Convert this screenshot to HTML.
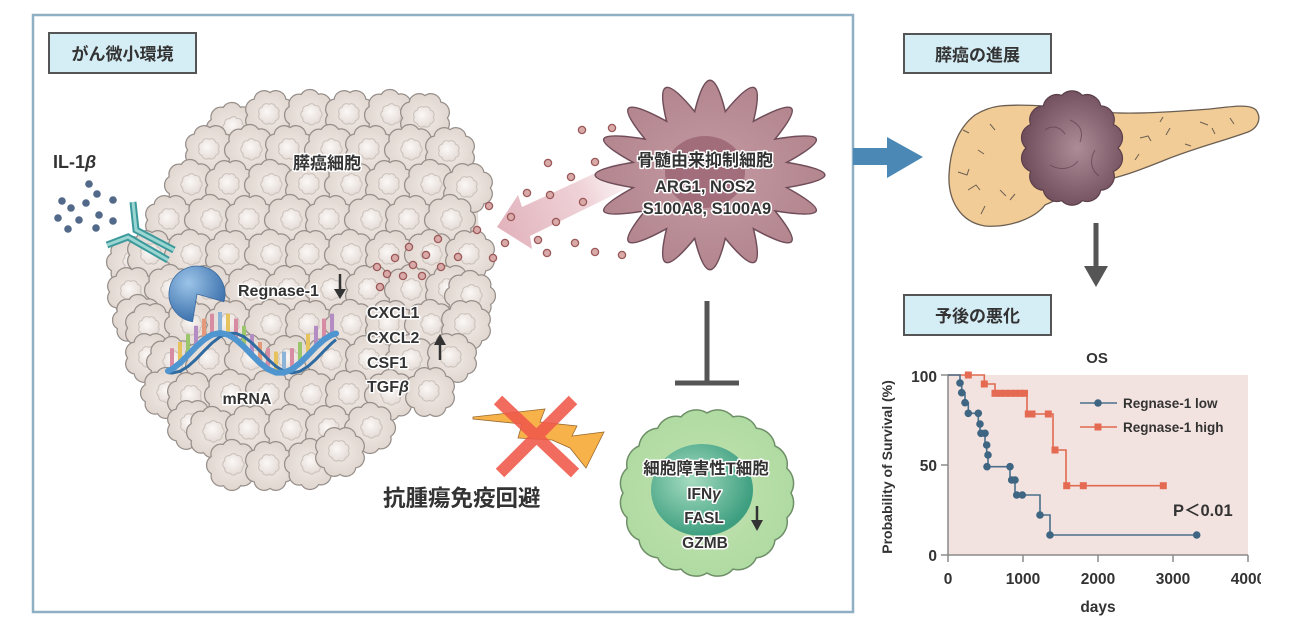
<!DOCTYPE html>
<html><head><meta charset="utf-8"><style>
html,body{margin:0;padding:0;background:#fff;}
svg{display:block;}
text{font-family:"Liberation Sans","Noto Sans CJK JP",sans-serif;font-weight:bold;fill:#333;}
.h{paint-order:stroke;stroke:#fff;stroke-width:3px;stroke-linejoin:round;}
</style></head><body>
<svg width="1300" height="628" viewBox="0 0 1300 628" xmlns="http://www.w3.org/2000/svg">
<defs>
<radialGradient id="cg" cx="50%" cy="50%" r="55%"><stop offset="0" stop-color="#f1eae5"/><stop offset="1" stop-color="#e0d5cf"/></radialGradient>
<radialGradient id="ng" cx="40%" cy="40%" r="60%"><stop offset="0" stop-color="#fbf8f6"/><stop offset="1" stop-color="#e6ddd8"/></radialGradient>
<g id="ca"><g transform="scale(1.12)"><path d="M20,0A9,9 0 0 1 14.14,14.14A9,9 0 0 1 0,20A9,9 0 0 1 -14.14,14.14A9,9 0 0 1 -20,0A9,9 0 0 1 -14.14,-14.14A9,9 0 0 1 0,-20A9,9 0 0 1 14.14,-14.14A9,9 0 0 1 20,0Z" fill="url(#cg)" stroke="#968e89" stroke-width="1.1"/><path transform="translate(-1,-1) scale(0.42)" d="M20,0A9,9 0 0 1 14.14,14.14A9,9 0 0 1 0,20A9,9 0 0 1 -14.14,14.14A9,9 0 0 1 -20,0A9,9 0 0 1 -14.14,-14.14A9,9 0 0 1 0,-20A9,9 0 0 1 14.14,-14.14A9,9 0 0 1 20,0Z" fill="url(#ng)" stroke="#cbc1bb" stroke-width="2.2"/></g></g>
<g id="cb"><g transform="rotate(22) scale(1.12)"><path d="M20,0A9,9 0 0 1 14.14,14.14A9,9 0 0 1 0,20A9,9 0 0 1 -14.14,14.14A9,9 0 0 1 -20,0A9,9 0 0 1 -14.14,-14.14A9,9 0 0 1 0,-20A9,9 0 0 1 14.14,-14.14A9,9 0 0 1 20,0Z" fill="url(#cg)" stroke="#968e89" stroke-width="1.1"/><path transform="translate(1,-1) scale(0.42)" d="M20,0A9,9 0 0 1 14.14,14.14A9,9 0 0 1 0,20A9,9 0 0 1 -14.14,14.14A9,9 0 0 1 -20,0A9,9 0 0 1 -14.14,-14.14A9,9 0 0 1 0,-20A9,9 0 0 1 14.14,-14.14A9,9 0 0 1 20,0Z" fill="url(#ng)" stroke="#cbc1bb" stroke-width="2.2"/></g></g>
<linearGradient id="pa" x1="497" y1="227" x2="640" y2="165" gradientUnits="userSpaceOnUse"><stop offset="0" stop-color="#e2b3bc"/><stop offset="0.6" stop-color="#efd3d8"/><stop offset="1" stop-color="#f8ecee" stop-opacity="0.3"/></linearGradient>
<radialGradient id="sg" cx="50%" cy="50%" r="55%"><stop offset="0" stop-color="#c49aa2"/><stop offset="1" stop-color="#b2848d"/></radialGradient>
<radialGradient id="pg" cx="35%" cy="30%" r="70%"><stop offset="0" stop-color="#9cc4e8"/><stop offset="1" stop-color="#3d72ad"/></radialGradient>
<radialGradient id="tg" cx="50%" cy="50%" r="55%"><stop offset="0" stop-color="#c6e2b2"/><stop offset="1" stop-color="#addaa0"/></radialGradient>
<radialGradient id="tn" cx="40%" cy="40%" r="60%"><stop offset="0" stop-color="#a6dcc0"/><stop offset="1" stop-color="#3e9f80"/></radialGradient>
<radialGradient id="tu" cx="55%" cy="50%" r="55%"><stop offset="0" stop-color="#ad8c97"/><stop offset="1" stop-color="#6f4d5b"/></radialGradient>
</defs>

<rect x="33" y="15" width="820" height="597" fill="none" stroke="#8fb0c4" stroke-width="2.5"/>

<rect x="49" y="33" width="147" height="40" fill="#d5edf5" stroke="#555" stroke-width="2"/>
<text x="122.5" y="60" font-size="17" text-anchor="middle">がん微小環境</text>
<rect x="904" y="34" width="147" height="39" fill="#d5edf5" stroke="#555" stroke-width="2"/>
<text x="977.5" y="61" font-size="17" text-anchor="middle">膵癌の進展</text>
<rect x="904" y="295" width="147" height="40" fill="#d5edf5" stroke="#555" stroke-width="2"/>
<text x="977.5" y="322" font-size="17" text-anchor="middle">予後の悪化</text>

<polygon points="285,110 400,105 440,125 465,160 478,210 480,270 478,310 470,350 450,380 420,405 380,418 350,450 300,478 245,478 210,460 180,420 150,390 135,350 130,300 130,260 160,220 185,175 215,135 250,120" fill="#e6ddd7"/>

<g>
<use href="#cb" x="232" y="128"/><use href="#ca" x="270" y="115"/><use href="#cb" x="310" y="115"/><use href="#ca" x="350" y="115"/><use href="#cb" x="390" y="115"/><use href="#ca" x="425" y="118"/>
<use href="#ca" x="210" y="150"/><use href="#cb" x="250" y="150"/><use href="#ca" x="290" y="150"/><use href="#cb" x="330" y="150"/><use href="#ca" x="370" y="150"/><use href="#cb" x="410" y="150"/><use href="#ca" x="450" y="152"/>
<use href="#cb" x="190" y="185"/><use href="#ca" x="230" y="185"/><use href="#cb" x="270" y="185"/><use href="#ca" x="310" y="185"/><use href="#cb" x="350" y="185"/><use href="#ca" x="390" y="185"/><use href="#cb" x="430" y="185"/><use href="#ca" x="468" y="188"/>
<use href="#ca" x="170" y="220"/><use href="#cb" x="210" y="220"/><use href="#ca" x="250" y="220"/><use href="#cb" x="290" y="220"/><use href="#ca" x="330" y="220"/><use href="#cb" x="370" y="220"/><use href="#ca" x="410" y="220"/><use href="#cb" x="450" y="220"/>
<use href="#cb" x="132" y="262"/><use href="#ca" x="152" y="255"/><use href="#cb" x="190" y="255"/><use href="#ca" x="230" y="255"/><use href="#cb" x="270" y="255"/><use href="#ca" x="310" y="255"/><use href="#cb" x="350" y="255"/><use href="#ca" x="390" y="255"/><use href="#cb" x="430" y="255"/><use href="#ca" x="470" y="255"/>
<use href="#ca" x="132" y="292"/><use href="#cb" x="170" y="290"/><use href="#ca" x="210" y="290"/><use href="#cb" x="250" y="290"/><use href="#ca" x="290" y="290"/><use href="#cb" x="330" y="290"/><use href="#ca" x="370" y="290"/><use href="#cb" x="410" y="290"/><use href="#ca" x="450" y="290"/><use href="#cb" x="470" y="296"/>
<use href="#cb" x="138" y="320"/><use href="#ca" x="150" y="328"/><use href="#cb" x="190" y="325"/><use href="#ca" x="230" y="325"/><use href="#cb" x="270" y="325"/><use href="#ca" x="310" y="325"/><use href="#cb" x="350" y="325"/><use href="#ca" x="390" y="325"/><use href="#cb" x="430" y="325"/><use href="#ca" x="466" y="325"/>
<use href="#ca" x="150" y="358"/><use href="#cb" x="172" y="362"/><use href="#ca" x="210" y="360"/><use href="#cb" x="250" y="360"/><use href="#ca" x="290" y="360"/><use href="#cb" x="330" y="360"/><use href="#ca" x="370" y="360"/><use href="#cb" x="410" y="360"/><use href="#ca" x="452" y="358"/>
<use href="#cb" x="166" y="393"/><use href="#ca" x="192" y="397"/><use href="#cb" x="230" y="395"/><use href="#ca" x="270" y="395"/><use href="#cb" x="310" y="395"/><use href="#ca" x="350" y="395"/><use href="#cb" x="390" y="395"/><use href="#ca" x="430" y="392"/>
<use href="#ca" x="192" y="425"/><use href="#cb" x="212" y="432"/><use href="#ca" x="250" y="430"/><use href="#cb" x="290" y="430"/><use href="#ca" x="330" y="430"/><use href="#cb" x="370" y="428"/>
<use href="#cb" x="232" y="465"/><use href="#ca" x="270" y="466"/><use href="#cb" x="310" y="464"/><use href="#ca" x="340" y="452"/>
</g>

<text x="53" y="168" font-size="18">IL-1<tspan font-style="italic">β</tspan></text>
<g fill="#52698a">
<circle cx="89" cy="184" r="3.8"/><circle cx="97" cy="194" r="3.8"/><circle cx="62" cy="201" r="3.8"/><circle cx="71" cy="208" r="3.8"/><circle cx="86" cy="203" r="3.8"/><circle cx="99" cy="215" r="3.8"/><circle cx="113" cy="200" r="3.8"/><circle cx="58" cy="218" r="3.8"/><circle cx="79" cy="220" r="3.8"/><circle cx="113" cy="221" r="3.8"/><circle cx="68" cy="229" r="3.8"/><circle cx="96" cy="228" r="3.8"/>
</g>
<g fill="none" stroke-linejoin="miter">
<polyline points="133,202 136,230 174,250" stroke="#3c9a9c" stroke-width="7"/>
<polyline points="133,202 136,230 174,250" stroke="#9bd6d2" stroke-width="3"/>
<polyline points="107,245 128,237 168,260" stroke="#3c9a9c" stroke-width="7"/>
<polyline points="107,245 128,237 168,260" stroke="#9bd6d2" stroke-width="3"/>
</g>

<polygon points="497,227 518,195 522,207 628,158 638,183 530,236 532,249" fill="url(#pa)"/>

<path d="M786.7,187.6 Q851.4,223.2 775.0,210.9 Q818.2,264.1 753.4,228.7 Q768.6,291.4 725.3,238.4 Q710,301 694.7,238.4 Q651.4,291.4 666.6,228.7 Q601.8,264.1 645.0,210.9 Q568.6,223.2 633.3,187.6 Q557,175 633.3,162.4 Q568.6,126.8 645.0,139.1 Q601.8,85.9 666.6,121.3 Q651.4,58.6 694.7,111.6 Q710,49 725.3,111.6 Q768.6,58.6 753.4,121.3 Q818.2,85.9 775.0,139.1 Q851.4,126.8 786.7,162.4 Q863,175 786.7,187.6 Z" fill="url(#sg)" stroke="#6f4d59" stroke-width="1.5"/>
<ellipse cx="705" cy="172" rx="40" ry="36" fill="#9c6676" opacity="0.85"/>

<g fill="#d9aaa8" stroke="#9a5858" stroke-width="1.3">
<circle cx="438" cy="239" r="3.6"/><circle cx="409" cy="247" r="3.6"/><circle cx="426" cy="255" r="3.6"/><circle cx="395" cy="258" r="3.6"/><circle cx="413" cy="265" r="3.6"/><circle cx="377" cy="267" r="3.6"/><circle cx="387" cy="274" r="3.6"/><circle cx="403" cy="276" r="3.6"/><circle cx="422" cy="276" r="3.6"/><circle cx="380" cy="287" r="3.6"/><circle cx="458" cy="257" r="3.6"/><circle cx="441" cy="267" r="3.6"/>
<circle cx="582" cy="130" r="3.6"/><circle cx="612" cy="128" r="3.6"/><circle cx="548" cy="163" r="3.6"/><circle cx="595" cy="162" r="3.6"/><circle cx="571" cy="177" r="3.6"/><circle cx="527" cy="193" r="3.6"/><circle cx="550" cy="195" r="3.6"/><circle cx="583" cy="202" r="3.6"/><circle cx="489" cy="206" r="3.6"/><circle cx="511" cy="217" r="3.6"/><circle cx="556" cy="222" r="3.6"/><circle cx="477" cy="230" r="3.6"/><circle cx="505" cy="243" r="3.6"/><circle cx="538" cy="240" r="3.6"/><circle cx="575" cy="243" r="3.6"/><circle cx="595" cy="252" r="3.6"/><circle cx="622" cy="255" r="3.6"/><circle cx="547" cy="253" r="3.6"/><circle cx="493" cy="258" r="3.6"/>
</g>

<text class="h" x="705" y="166" font-size="17" text-anchor="middle">骨髄由来抑制細胞</text>
<text class="h" x="705" y="192" font-size="16.5" text-anchor="middle">ARG1, NOS2</text>
<text class="h" x="707" y="214" font-size="16.5" text-anchor="middle">S100A8, S100A9</text>

<text class="h" x="327" y="169" font-size="17" text-anchor="middle">膵癌細胞</text>

<path d="M197,294 L223.9,301.7 A28,28 0 1 0 192.6,321.7 Z" fill="url(#pg)" stroke="#3a6aa0" stroke-width="0.8"/>

<g>
<rect x="170" y="348.2" width="4" height="23" fill="#d88ca4"/>
<rect x="178" y="342" width="4" height="23" fill="#e6c35c"/>
<rect x="186" y="334.1" width="4" height="23" fill="#9cc66c"/>
<rect x="194" y="325.8" width="4" height="23" fill="#b48cc4"/>
<rect x="202" y="318.6" width="4" height="23" fill="#e49a7a"/>
<rect x="210" y="313.7" width="4" height="23" fill="#d88ca4"/>
<rect x="218" y="312" width="4" height="23" fill="#8cb4d8"/>
<rect x="226" y="313.7" width="4" height="23" fill="#e6c35c"/>
<rect x="234" y="318.6" width="4" height="23" fill="#d88ca4"/>
<rect x="242" y="325.8" width="4" height="23" fill="#9cc66c"/>
<rect x="250" y="334.1" width="4" height="23" fill="#b48cc4"/>
<rect x="258" y="342" width="4" height="23" fill="#e49a7a"/>
<rect x="266" y="348.2" width="4" height="23" fill="#d88ca4"/>
<rect x="274" y="351.6" width="4" height="23" fill="#e6c35c"/>
<rect x="282" y="351.6" width="4" height="23" fill="#8cb4d8"/>
<rect x="290" y="348.2" width="4" height="23" fill="#d88ca4"/>
<rect x="298" y="342" width="4" height="23" fill="#9cc66c"/>
<rect x="306" y="334.1" width="4" height="23" fill="#e6c35c"/>
<rect x="314" y="325.8" width="4" height="23" fill="#b48cc4"/>
<rect x="322" y="318.6" width="4" height="23" fill="#d88ca4"/>
<rect x="330" y="313.7" width="4" height="23" fill="#b48cc4"/>
</g>
<path d="M168,372.6 L172,373 L180,371.3 L188,366.4 L196,359.2 L204,350.9 L212,343 L220,336.8 L228,333.4 L236,333.4 L244,336.8 L252,343 L260,350.9 L268,359.2 L276,366.4 L284,371.3 L292,373 L300,371.3 L308,366.4 L316,359.2 L324,350.9 L332,343 L336,339.6" fill="none" stroke="#2f6aa0" stroke-width="3" stroke-linejoin="round"/>
<path d="M168,371 L172,369.2 L180,363 L188,355.1 L196,346.8 L204,339.6 L212,334.7 L220,333 L228,334.7 L236,339.6 L244,346.8 L252,355.1 L260,363 L268,369.2 L276,372.6 L284,372.6 L292,369.2 L300,363 L308,355.1 L316,346.8 L324,339.6 L332,334.7 L336,333.5" fill="none" stroke="#4f95cf" stroke-width="6" stroke-linejoin="round" stroke-linecap="round"/>

<text class="h" x="238" y="296" font-size="16">Regnase-1</text>
<line x1="340" y1="274" x2="340" y2="291" stroke="#333" stroke-width="2.5"/>
<polygon points="334,289 346,289 340,299" fill="#333"/>

<text class="h" x="367" y="318" font-size="16">CXCL1</text>
<text class="h" x="367" y="343" font-size="16">CXCL2</text>
<text class="h" x="367" y="368" font-size="16">CSF1</text>
<text class="h" x="367" y="392" font-size="16">TGF<tspan font-style="italic">β</tspan></text>
<line x1="440" y1="343" x2="440" y2="360" stroke="#333" stroke-width="2.5"/>
<polygon points="434,345 446,345 440,334" fill="#333"/>
<text class="h" x="247" y="404" font-size="16" text-anchor="middle">mRNA</text>

<line x1="707" y1="301" x2="707" y2="383" stroke="#555" stroke-width="5"/>
<line x1="675" y1="383" x2="739" y2="383" stroke="#555" stroke-width="5"/>

<path d="M791,493 A20,20 0 0 1 786.9,517.7 A20,20 0 0 1 775,540 A20,20 0 0 1 756.4,557.7 A20,20 0 0 1 733,569.1 A20,20 0 0 1 707,573 A20,20 0 0 1 681,569.1 A20,20 0 0 1 657.6,557.7 A20,20 0 0 1 639,540 A20,20 0 0 1 627.1,517.7 A20,20 0 0 1 623,493 A20,20 0 0 1 627.1,468.3 A20,20 0 0 1 639,446 A20,20 0 0 1 657.6,428.3 A20,20 0 0 1 681,416.9 A20,20 0 0 1 707,413 A20,20 0 0 1 733,416.9 A20,20 0 0 1 756.4,428.3 A20,20 0 0 1 775,446 A20,20 0 0 1 786.9,468.3 A20,20 0 0 1 791,493 Z" fill="url(#tg)" stroke="#6f8f68" stroke-width="1.5"/>
<ellipse cx="702" cy="490" rx="51" ry="46" fill="url(#tn)"/>
<text class="h" x="706" y="474" font-size="16.5" text-anchor="middle">細胞障害性T細胞</text>
<text class="h" x="704" y="499" font-size="15.5" text-anchor="middle">IFN<tspan font-style="italic">γ</tspan></text>
<text class="h" x="704" y="523" font-size="15.5" text-anchor="middle">FASL</text>
<text class="h" x="705" y="548" font-size="15.5" text-anchor="middle">GZMB</text>
<line x1="757" y1="506" x2="757" y2="522" stroke="#333" stroke-width="2.5"/>
<polygon points="751,520 763,520 757,531" fill="#333"/>

<polygon points="473,417 545,409 540,422 577,426 572,436 604,432 586,468 570,448 552,440 518,438 522,424 473,419" fill="#f7b24a" stroke="#9a6a30" stroke-width="0.8"/>
<g stroke="#f0584a" stroke-width="12" opacity="0.88" stroke-linecap="butt">
<line x1="498" y1="400" x2="575" y2="473"/>
<line x1="573" y1="400" x2="500" y2="473"/>
</g>
<text x="383" y="506" font-size="22.5">抗腫瘍免疫回避</text>

<polygon points="853,148 887,148 887,137 923,157 887,178 887,165 853,165" fill="#4b88b6"/>

<path d="M1000,106 C1020,104 1050,106 1080,110 C1120,116 1170,112 1210,109 C1235,106 1250,104 1256,110 C1262,118 1258,128 1248,132 C1220,142 1195,148 1165,160 C1140,170 1120,178 1095,182 C1080,190 1060,198 1045,205 C1035,218 1010,228 985,226 C960,222 948,200 949,175 C950,150 958,128 975,115 C983,110 992,107 1000,106 Z" fill="#f2cc96" stroke="#6b5e52" stroke-width="1.3"/>
<g fill="none" stroke="#6b5e52" stroke-width="1">
<path d="M958,172 l9,3 l2,-6"/><path d="M968,190 l8,-5 l4,5"/><path d="M985,206 l-4,8"/><path d="M978,150 l6,4"/><path d="M1000,190 l6,6"/><path d="M990,124 l5,6"/><path d="M1010,200 l5,-6"/><path d="M963,130 l6,3"/>
<path d="M1140,138 l8,-2 l3,5"/><path d="M1170,128 l-4,7"/><path d="M1200,122 l8,3"/><path d="M1230,118 l4,6"/><path d="M1135,160 l4,-6"/><path d="M1185,144 l6,2"/><path d="M1215,134 l-3,-6"/><path d="M1160,122 l3,-5"/>
</g>
<path d="M1118,148 A14,14 0 0 1 1113.4,171.4 A14,14 0 0 1 1100.7,190.2 A14,14 0 0 1 1082.3,200.7 A14,14 0 0 1 1061.7,200.7 A14,14 0 0 1 1043.3,190.2 A14,14 0 0 1 1030.6,171.4 A14,14 0 0 1 1026,148 A14,14 0 0 1 1030.6,124.6 A14,14 0 0 1 1043.3,105.8 A14,14 0 0 1 1061.7,95.4 A14,14 0 0 1 1082.3,95.4 A14,14 0 0 1 1100.7,105.8 A14,14 0 0 1 1113.4,124.6 A14,14 0 0 1 1118,148 Z" fill="url(#tu)" stroke="#5a3e4a" stroke-width="1.2"/>
<g fill="none" stroke="#5e4150" stroke-width="1" opacity="0.7">
<path d="M1045,130 c8,-6 16,-2 20,4"/><path d="M1070,120 c10,4 14,12 10,22"/><path d="M1050,165 c10,6 22,4 28,-4"/><path d="M1095,150 c-6,10 -4,20 4,26"/>
</g>

<rect x="1093.5" y="223" width="5" height="45" fill="#555"/>
<polygon points="1084,266 1108,266 1096,287" fill="#555"/>

<rect x="948" y="375" width="300" height="180" fill="#f3e3e0"/>
<g stroke="#8a8a8a" stroke-width="1.5" fill="none">
<line x1="948" y1="375" x2="948" y2="555"/>
<line x1="948" y1="555" x2="1248" y2="555"/>
<line x1="941" y1="375" x2="948" y2="375"/><line x1="941" y1="465" x2="948" y2="465"/><line x1="941" y1="555" x2="948" y2="555"/>
<line x1="948" y1="555" x2="948" y2="562"/><line x1="1023" y1="555" x2="1023" y2="562"/><line x1="1098" y1="555" x2="1098" y2="562"/><line x1="1173" y1="555" x2="1173" y2="562"/><line x1="1248" y1="555" x2="1248" y2="562"/>
</g>
<text x="1097" y="363" font-size="15" text-anchor="middle">OS</text>
<text x="937" y="382" font-size="15.5" text-anchor="end">100</text>
<text x="937" y="471" font-size="15.5" text-anchor="end">50</text>
<text x="937" y="561" font-size="15.5" text-anchor="end">0</text>
<text x="948" y="584" font-size="15.5" text-anchor="middle">0</text>
<text x="1023" y="584" font-size="15.5" text-anchor="middle">1000</text>
<text x="1098" y="584" font-size="15.5" text-anchor="middle">2000</text>
<text x="1173" y="584" font-size="15.5" text-anchor="middle">3000</text>
<text x="1248" y="584" font-size="15.5" text-anchor="middle">4000</text>
<rect x="1261" y="565" width="40" height="30" fill="#fff"/>
<text x="1098" y="612" font-size="15.5" text-anchor="middle">days</text>
<text transform="translate(892,467) rotate(-90)" font-size="14" text-anchor="middle">Probability of Survival (%)</text>

<path d="M948,375 H984.3 V384 H995 V393.3 H1027 V414 H1053 V450 H1066 V485.7 H1163.3" fill="none" stroke="#e06a50" stroke-width="1.6"/>
<g fill="#e46a52">
<rect x="964.8" y="371.5" width="7" height="7"/><rect x="980.8" y="380.5" width="7" height="7"/><rect x="991.5" y="389.8" width="7" height="7"/><rect x="997" y="389.8" width="7" height="7"/><rect x="1002" y="389.8" width="7" height="7"/><rect x="1007" y="389.8" width="7" height="7"/><rect x="1012" y="389.8" width="7" height="7"/><rect x="1017" y="389.8" width="7" height="7"/><rect x="1021" y="389.8" width="7" height="7"/>
<rect x="1024.8" y="410.5" width="7" height="7"/><rect x="1028.5" y="410.5" width="7" height="7"/><rect x="1044.8" y="410.5" width="7" height="7"/><rect x="1051.5" y="446.5" width="7" height="7"/><rect x="1063.2" y="482.2" width="7" height="7"/><rect x="1079.8" y="482.2" width="7" height="7"/><rect x="1159.8" y="482.2" width="7" height="7"/>
</g>
<path d="M948,375 H960 V383 H961.7 V392.7 H965 V402.7 H968.3 V413.3 H978.3 V424 H980 V433.3 H985 V445 H986.7 V455 H988 V466.7 H1010 V480 H1015 V495 H1040 V515 H1050 V535 H1196.7" fill="none" stroke="#4a6f8a" stroke-width="1.6"/>
<g fill="#3e6683">
<circle cx="960" cy="383" r="3.8"/><circle cx="961.7" cy="392.7" r="3.8"/><circle cx="965" cy="402.7" r="3.8"/><circle cx="968.3" cy="413.3" r="3.8"/><circle cx="978.3" cy="413.3" r="3.8"/><circle cx="980" cy="424" r="3.8"/><circle cx="981" cy="433.3" r="3.8"/><circle cx="985" cy="433.3" r="3.8"/><circle cx="986.7" cy="445" r="3.8"/><circle cx="988" cy="455" r="3.8"/><circle cx="987" cy="466.7" r="3.8"/><circle cx="1010" cy="466.7" r="3.8"/><circle cx="1011.7" cy="480" r="3.8"/><circle cx="1015" cy="480" r="3.8"/><circle cx="1016.7" cy="495" r="3.8"/><circle cx="1022.3" cy="495" r="3.8"/><circle cx="1040" cy="515" r="3.8"/><circle cx="1050" cy="535" r="3.8"/><circle cx="1196.7" cy="535" r="3.8"/>
</g>
<line x1="1080" y1="403" x2="1117" y2="403" stroke="#4a6f8a" stroke-width="1.6"/>
<circle cx="1098" cy="403" r="3.8" fill="#3e6683"/>
<text x="1123" y="408" font-size="13.5" style="font-weight:600">Regnase-1 low</text>
<line x1="1080" y1="427" x2="1117" y2="427" stroke="#e06a50" stroke-width="1.6"/>
<rect x="1094.5" y="423.5" width="7" height="7" fill="#e46a52"/>
<text x="1123" y="432" font-size="13.5" style="font-weight:600">Regnase-1 high</text>
<text x="1173" y="516" font-size="16.5">P＜0.01</text>
</svg>
</body></html>
